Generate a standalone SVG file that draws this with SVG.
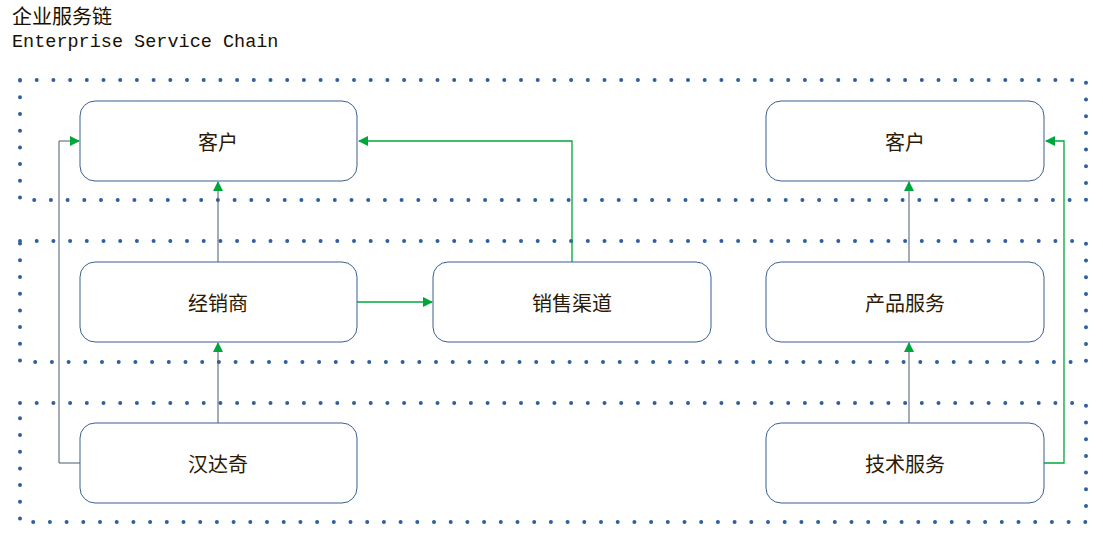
<svg xmlns="http://www.w3.org/2000/svg" width="1103" height="539" viewBox="0 0 1103 539">
<style>
.band{fill:none;stroke:#2f5f9e;stroke-width:4;stroke-linecap:round;stroke-dasharray:0 16.7}
.node{fill:#fff;stroke:#3b5f91;stroke-width:1}
.t{font-family:"Noto Sans CJK SC","Liberation Sans",sans-serif;font-size:20px;fill:#2b1a05;text-anchor:middle;dominant-baseline:central}
.g{fill:none;stroke:#00a63c;stroke-width:1.3}
.k{fill:none;stroke:#4a5a70;stroke-width:1}
</style>
<defs><marker id="a" markerWidth="10" markerHeight="10" refX="9" refY="5" orient="auto" markerUnits="userSpaceOnUse"><path d="M0,0L10,5L0,10z" fill="#00a63c"/></marker></defs>
<rect width="1103" height="539" fill="#fff"/>
<text x="12" y="24" font-family="Noto Sans CJK SC,sans-serif" font-size="20" fill="#1a1000">企业服务链</text>
<text x="12" y="47" font-family="Liberation Mono,monospace" font-size="18.5" fill="#1a1000">Enterprise Service Chain</text>
<g id="bands">
<rect class="band" x="20" y="80" width="1066" height="120"/>
<rect class="band" x="20" y="241" width="1066" height="121"/>
<rect class="band" x="20" y="403" width="1066" height="119"/>
</g>
<g id="connectors">
<path class="k" d="M218,262V182" marker-end="url(#a)"/>
<path class="k" d="M218,423V343" marker-end="url(#a)"/>
<path class="k" d="M909,262V182" marker-end="url(#a)"/>
<path class="k" d="M909,423V343" marker-end="url(#a)"/>
<path class="k" d="M80,463H59V141H79" marker-end="url(#a)"/>
<path class="g" d="M357,302H432" marker-end="url(#a)"/>
<path class="g" d="M572,262V141H359" marker-end="url(#a)"/>
<path class="g" d="M1044,463H1064V141H1046" marker-end="url(#a)"/>
</g>
<g id="n1"><rect class="node" x="80" y="101" width="277" height="80" rx="15"/><text class="t" x="218" y="141">客户</text></g>
<g id="n2"><rect class="node" x="766" y="101" width="278" height="80" rx="15"/><text class="t" x="905" y="141">客户</text></g>
<g id="n3"><rect class="node" x="80" y="262" width="277" height="80" rx="15"/><text class="t" x="218" y="302">经销商</text></g>
<g id="n4"><rect class="node" x="433" y="262" width="278" height="80" rx="15"/><text class="t" x="572" y="302">销售渠道</text></g>
<g id="n5"><rect class="node" x="766" y="262" width="278" height="80" rx="15"/><text class="t" x="905" y="302">产品服务</text></g>
<g id="n6"><rect class="node" x="80" y="423" width="277" height="80" rx="15"/><text class="t" x="218" y="463">汉达奇</text></g>
<g id="n7"><rect class="node" x="766" y="423" width="278" height="80" rx="15"/><text class="t" x="905" y="463">技术服务</text></g>
</svg>
